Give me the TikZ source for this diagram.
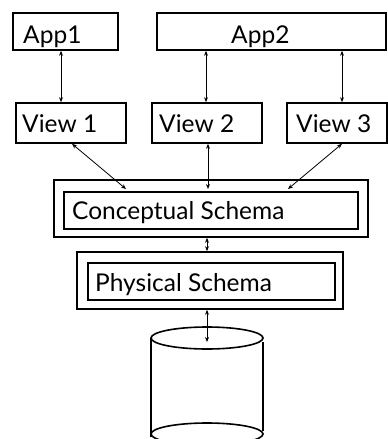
\documentclass[tikz,border=0pt]{standalone}
\usepackage{fontspec}
\setmainfont{Lato}
\usetikzlibrary{arrows.meta}
\begin{document}
\begin{tikzpicture}[x=1pt,y=-1pt,
  box/.style={draw,line width=1.6pt,inner sep=0pt},
  lbl/.style={font=\fontsize{24.5}{24.5}\selectfont,anchor=base west,inner sep=0pt},
  link/.style={line width=0.8pt,{Stealth[length=5pt,width=4pt]}-{Stealth[length=5pt,width=4pt]}},
  cyl/.style={line width=1.6pt}]
\useasboundingbox (0,0) rectangle (388,439);
% top boxes
\node[box,minimum width=105pt,minimum height=37pt] (app1) at (65.5,31.5) {};
\node[lbl] (app1t) at (23,43) {App1};
\node[box,minimum width=229pt,minimum height=37pt] (app2) at (271.5,31.5) {};
\node[lbl] (app2t) at (231,43) {App2};
% views
\node[box,minimum width=110pt,minimum height=40pt] (v1) at (71,123) {};
\node[lbl] (v1t) at (22,132) {View 1};
\node[box,minimum width=110pt,minimum height=40pt] (v2) at (207,123) {};
\node[lbl] (v2t) at (159,132) {View 2};
\node[box,minimum width=100pt,minimum height=40pt] (v3) at (337,123) {};
\node[lbl] (v3t) at (296,132) {View 3};
% conceptual
\node[box,minimum width=314pt,minimum height=57pt] (co) at (211,208.5) {};
\node[box,minimum width=294pt,minimum height=37pt] (ci) at (211,210.5) {};
\node[lbl] (ct) at (72,219) {Conceptual Schema};
% physical
\node[box,minimum width=266pt,minimum height=57pt] (po) at (210,280.5) {};
\node[box,minimum width=247pt,minimum height=37pt] (pi) at (211.5,281.5) {};
\node[lbl] (pt) at (95,291) {Physical Schema};
% cylinder
\coordinate (ctop) at (207,338);
\coordinate (ctip) at (207,342);
\draw[cyl] (ctop) ellipse [x radius=56, y radius=11];
\draw[cyl] (151,338) -- (151,437);
\draw[cyl] (263,342) -- (263,431);
\draw[cyl] (207,434) ellipse [x radius=56, y radius=11];
% links
\draw[link] (app1.south -| 61,0) -- (v1.north -| 61,0);
\draw[link] (app2.south -| 206,0) -- (v2.north -| 206,0);
\draw[link] (app2.south -| 342,0) -- (v3.north -| 342,0);
\coordinate (c1) at (126,189);
\coordinate (c2) at (208,189);
\coordinate (c3) at (288,189);
\draw[link] (v1.south -| 72,0) -- (c1);
\draw[link] (v2.south -| 208,0) -- (c2);
\draw[link] (v3.south -| 342,0) -- (c3);
\draw[link] (co.south -| 207,0) -- (po.north -| 207,0);
\draw[link] (po.south -| 207,0) -- (ctip);
\end{tikzpicture}
\end{document}
